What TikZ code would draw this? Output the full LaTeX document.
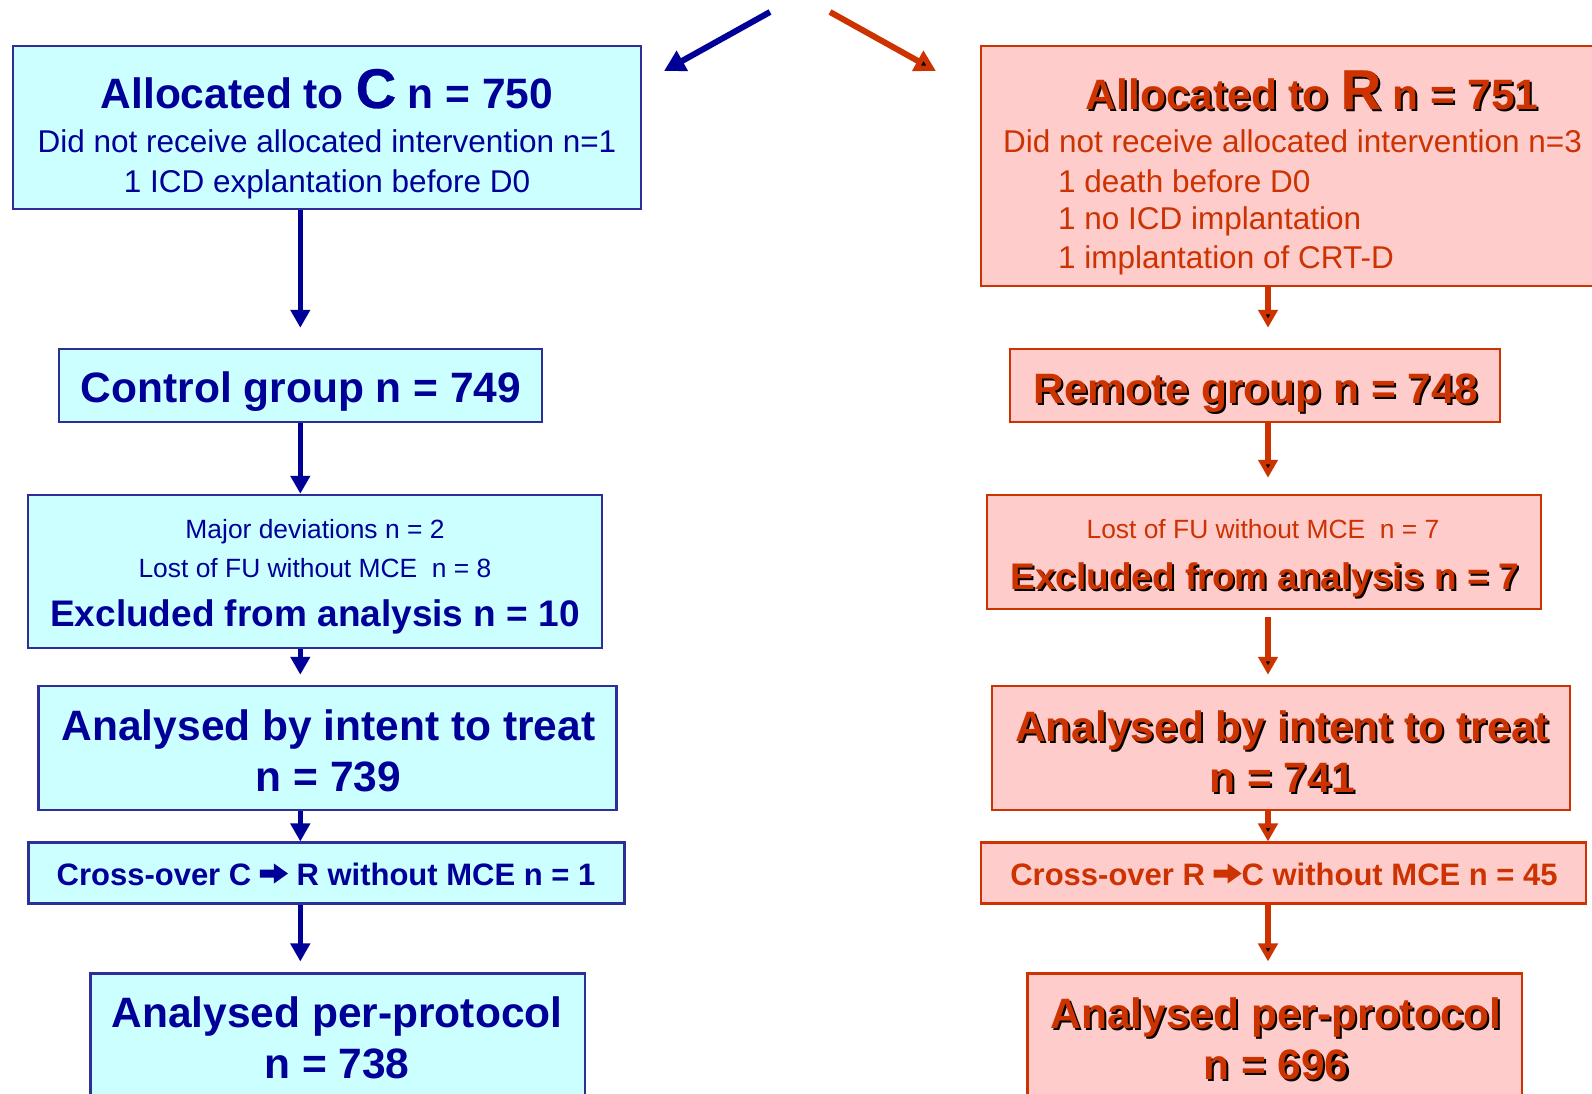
\documentclass[tikz,border=0pt]{standalone}
\usepackage{fontspec}
\setmainfont{Liberation Sans}
\newfontfamily\bigletter[FakeBold=0.5]{Liberation Sans}
\usetikzlibrary{arrows.meta}
\definecolor{navy}{HTML}{000099}
\definecolor{navyline}{HTML}{2E2E99}
\definecolor{cyanfill}{HTML}{CCFFFF}
\definecolor{redc}{HTML}{CC3300}
\definecolor{pinkfill}{HTML}{FFCCCC}
\newcommand\shd[1]{\leavevmode\rlap{\kern2pt\raisebox{-2pt}{\color{black}#1}}#1}
\newcommand\fatarr[1]{\tikz[baseline=0pt,x=1pt,y=1pt]\fill[#1] (0,7.5)--(14,7.5)--(14,1.5)--(28,11.5)--(14,21.5)--(14,15.5)--(0,15.5)--cycle;}
\tikzset{
  bbox/.style={draw=navyline, fill=cyanfill, line width=2.5pt, inner sep=0pt},
  rbox/.style={draw=redc, fill=pinkfill, line width=2.5pt, inner sep=0pt},
  btx/.style={text=navy, inner sep=0pt},
  rtx/.style={text=redc, inner sep=0pt},
  hd/.style={font=\fontsize{42.5}{51}\selectfont\bfseries},
  sub/.style={font=\fontsize{31.5}{38}\selectfont},
  sm/.style={font=\fontsize{26.4}{32}\selectfont},
  ex/.style={font=\fontsize{37}{44}\selectfont\bfseries},
  co/.style={font=\fontsize{31}{37}\selectfont\bfseries},
  barr/.style={draw=navy, line width=5.5pt, -{Triangle[width=19pt,length=18pt]}},
  rarr/.style={draw=redc, line width=5.5pt, -{Triangle[width=19pt,length=18pt]}},
  bdiag/.style={draw=navy, line width=6pt, -{Triangle[width=22pt,length=21pt]}},
  rdiag/.style={draw=redc, line width=6pt, -{Triangle[width=22pt,length=21pt]}},
}
\begin{document}
\begin{tikzpicture}[x=1pt,y=-1pt]
\useasboundingbox (0,0) rectangle (1592,1093);
\clip (0,0) rectangle (1592,1093);
\fill[white] (0,0) rectangle (1592,1093);

% left column boxes
\node[bbox, minimum width=628pt, minimum height=163pt] (L1) at (327,127.5) {};
\node[bbox, minimum width=483pt, minimum height=73pt] (L2) at (300.5,385.5) {};
\node[bbox, minimum width=574pt, minimum height=153pt] (L3) at (315,571.5) {};
\node[bbox, minimum width=578pt, minimum height=124pt] (L4) at (327.5,748) {};
\node[bbox, minimum width=596pt, minimum height=61pt] (L5) at (326.4,873.2) {};
\node[bbox, minimum width=494.4pt, minimum height=140pt] (L6) at (337.6,1043.7) {};

% right column boxes
\node[rbox, minimum width=640pt, minimum height=240pt] (R1) at (1300.8,166) {};
\node[rbox, minimum width=490pt, minimum height=73pt] (R2) at (1255,385.5) {};
\node[rbox, minimum width=554pt, minimum height=114pt] (R3) at (1264,552) {};
\node[rbox, minimum width=578pt, minimum height=124pt] (R4) at (1281,748) {};
\node[rbox, minimum width=605pt, minimum height=61pt] (R5) at (1283.4,873.2) {};
\node[rbox, minimum width=494.5pt, minimum height=140pt] (R6) at (1274.8,1043.7) {};

% left texts
\node[btx, hd, anchor=base] (tL1a) at (327,108) {Allocated to {\fontsize{56}{56}\selectfont\bigletter C} n = 750};
\node[btx, sub, anchor=base] (tL1b) at (327,152) {Did not receive allocated intervention n=1};
\node[btx, sub, anchor=base] (tL1c) at (327,192) {1 ICD explantation before D0};
\node[btx, hd, anchor=base] (tL2) at (301,402) {Control group n = 749};
\node[btx, sm, anchor=base] (tL3a) at (315,538) {Major deviations n = 2};
\node[btx, sm, anchor=base] (tL3b) at (315,577) {Lost of FU without MCE\ \ n = 8};
\node[btx, ex, anchor=base] (tL3c) at (315,626) {Excluded from analysis n = 10};
\node[btx, hd, anchor=base] (tL4a) at (328.5,740) {Analysed by intent to treat};
\node[btx, hd, anchor=base] (tL4b) at (328.5,791) {n = 739};
\node[btx, co, anchor=base] (tL5) at (326,885) {Cross-over C \fatarr{navy} R without MCE n = 1};
\node[btx, hd, anchor=base] (tL6a) at (337,1027) {Analysed per-protocol};
\node[btx, hd, anchor=base] (tL6b) at (337,1078) {n = 738};

% right texts
\node[rtx, hd, anchor=base] (tR1a) at (1312,109) {\shd{Allocated to {\fontsize{56}{56}\selectfont\bigletter R} n = 751}};
\node[rtx, sub, anchor=base west] (tR1b) at (1003,152) {Did not receive allocated intervention n=3};
\node[rtx, sub, anchor=base west] (tR1c) at (1058,192) {1 death before D0};
\node[rtx, sub, anchor=base west] (tR1d) at (1058,229) {1 no ICD implantation};
\node[rtx, sub, anchor=base west] (tR1e) at (1058,268) {1 implantation of CRT-D};
\node[rtx, hd, anchor=base] (tR2) at (1256,403) {\shd{Remote group n = 748}};
\node[rtx, sm, anchor=base] (tR3a) at (1263,538.5) {Lost of FU without MCE\ \ n = 7};
\node[rtx, ex, anchor=base] (tR3b) at (1265,589) {\shd{Excluded from analysis n = 7}};
\node[rtx, hd, anchor=base] (tR4a) at (1282,741) {\shd{Analysed by intent to treat}};
\node[rtx, hd, anchor=base] (tR4b) at (1282,792) {\shd{n = 741}};
\node[rtx, co, anchor=base] (tR5) at (1284,885) {Cross-over R \fatarr{redc}C without MCE n = 45};
\node[rtx, hd, anchor=base] (tR6a) at (1276,1028) {\shd{Analysed per-protocol}};
\node[rtx, hd, anchor=base] (tR6b) at (1276,1079) {\shd{n = 696}};

% column axes
\coordinate (axL) at (300.3,0);
\coordinate (axR) at (1268,0);

% left arrows
\draw[barr, shorten >=20pt] (L1.south -| axL) -- (L2.north -| axL);
\draw[barr] (L2.south -| axL) -- (L3.north -| axL);
\draw[barr, shorten >=10pt] (L3.south -| axL) -- (L4.north -| axL);
\draw[barr] (L4.south -| axL) -- (L5.north -| axL);
\draw[barr, shorten >=11pt] (L5.south -| axL) -- (L6.north -| axL);

% right arrows
\draw[rarr, shorten >=20pt] (R1.south -| axR) -- (R2.north -| axR);
\draw[rarr, shorten >=16pt] (R2.south -| axR) -- (R3.north -| axR);
\draw[rarr, shorten <=7pt, shorten >=10pt] (R3.south -| axR) -- (R4.north -| axR);
\draw[rarr] (R4.south -| axR) -- (R5.north -| axR);
\draw[rarr, shorten >=11pt] (R5.south -| axR) -- (R6.north -| axR);

% top diagonal arrows
\coordinate (bs) at (770,12);
\coordinate (be) at (664,71);
\coordinate (rs) at (830,12);
\coordinate (re) at (936,71);
\draw[bdiag] (bs) -- (be);
\draw[rdiag] (rs) -- (re);
\end{tikzpicture}
\end{document}
